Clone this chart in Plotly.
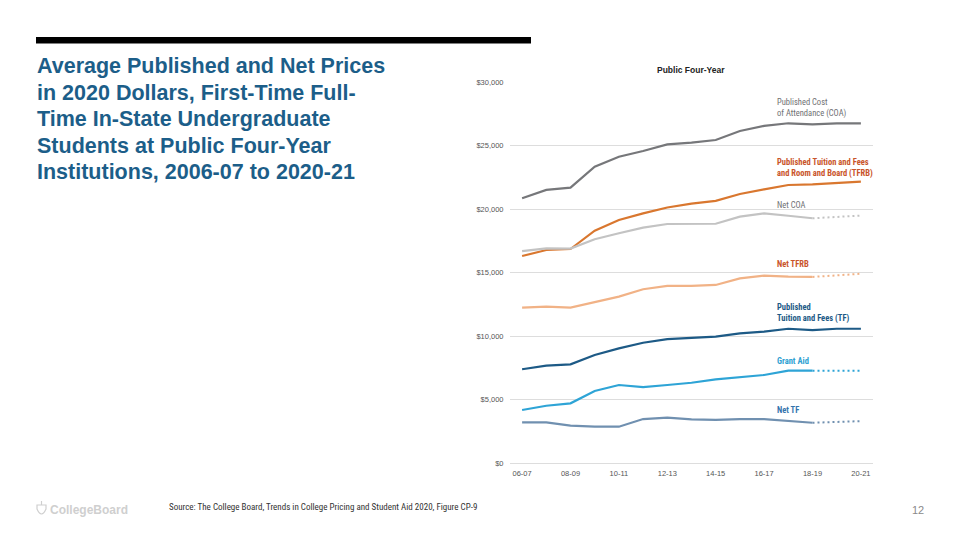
import plotly.graph_objects as go

years = ["06-07", "07-08", "08-09", "09-10", "10-11", "11-12", "12-13", "13-14",
         "14-15", "15-16", "16-17", "17-18", "18-19", "19-20", "20-21"]
tick_years = ["06-07", "08-09", "10-11", "12-13", "14-15", "16-17", "18-19", "20-21"]

# Published prices (2006-07 to 2020-21)
coa = [20840, 21500, 21680, 23330, 24120, 24570, 25090, 25220, 25430, 26140, 26540, 26750, 26670, 26750, 26750]
tfrb = [16300, 16770, 16850, 18290, 19130, 19660, 20120, 20420, 20640, 21180, 21550, 21890, 21940, 22070, 22150]
tf = [7380, 7660, 7770, 8500, 9030, 9470, 9760, 9870, 9950, 10210, 10340, 10570, 10470, 10570, 10570]

# Net prices and grant aid (2006-07 to 2018-19), plus dotted estimates to 2020-21
net_coa = [16690, 16900, 16880, 17620, 18090, 18530, 18820, 18840, 18840, 19400, 19660, 19470, 19270]
net_coa_est = [19270, 19400, 19480]
net_tfrb = [12230, 12310, 12230, 12650, 13100, 13680, 13940, 13940, 14020, 14540, 14750, 14670, 14650]
net_tfrb_est = [14650, 14800, 14900]
grant_aid = [4170, 4510, 4700, 5670, 6140, 5980, 6140, 6320, 6590, 6750, 6930, 7270, 7270]
grant_aid_est = [7270, 7270, 7270]
net_tf = [3200, 3200, 2940, 2860, 2860, 3460, 3570, 3440, 3390, 3460, 3460, 3330, 3170]
net_tf_est = [3170, 3240, 3300]

title_lines = ["Average Published and Net Prices", "in 2020 Dollars, First-Time Full-",
               "Time In-State Undergraduate", "Students at Public Four-Year",
               "Institutions, 2006-07 to 2020-21"]

# the page body has an 8px margin, so the figure is drawn 8px smaller and offset
OFF = 8
W, H = 960 - OFF, 540 - OFF
L, R, T, B = 510 - OFF, 873 - OFF, 82 - OFF, 463 - OFF


def px(x):
    return (x - OFF - L) / (R - L)


def py(y):
    return (B - (y - OFF)) / (B - T)


C_COA = "#76777a"
C_TFRB = "#d9772f"
C_NCOA = "#c3c3c3"
C_NTFRB = "#f1b286"
C_TF = "#1d5a86"
C_GA = "#2ea4d6"
C_NTF = "#7090b0"

fig = go.Figure()

solid = [
    ("Published COA", coa, C_COA, years),
    ("Published TFRB", tfrb, C_TFRB, years),
    ("Net COA", net_coa, C_NCOA, years[:13]),
    ("Net TFRB", net_tfrb, C_NTFRB, years[:13]),
    ("Published TF", tf, C_TF, years),
    ("Grant Aid", grant_aid, C_GA, years[:13]),
    ("Net TF", net_tf, C_NTF, years[:13]),
]
for name, vals, col, xs in solid:
    fig.add_trace(go.Scatter(x=xs, y=vals, mode="lines", name=name,
                             line=dict(color=col, width=2.2), showlegend=False,
                             hoverinfo="skip"))

dotted = [
    (net_coa_est, C_NCOA),
    (net_tfrb_est, C_NTFRB),
    (grant_aid_est, C_GA),
    (net_tf_est, C_NTF),
]
for vals, col in dotted:
    fig.add_trace(go.Scatter(x=years[12:], y=vals, mode="lines",
                             line=dict(color=col, width=2, dash="2px,3px"),
                             showlegend=False, hoverinfo="skip"))

ann = []
# main slide title, one annotation per line
for i, line in enumerate(title_lines):
    ann.append(dict(x=px(34.5), y=py(66.5 + 26.4 * i), xref="paper", yref="paper",
                    xanchor="left", yanchor="middle", align="left", showarrow=False,
                    text="<b>" + line + "</b>",
                    font=dict(family="Liberation Sans, Arial, sans-serif", size=21.5, color="#1c5e89")))
# chart title
ann.append(dict(x=px(691), y=py(70), xref="paper", yref="paper", xanchor="center", yanchor="middle",
                showarrow=False, text="<b>Public Four-Year</b>",
                font=dict(family="Liberation Sans, Arial, sans-serif", size=8.5, color="#222222")))

LBL_FONT = "Liberation Sans Narrow, Roboto Condensed, Arial Narrow, Liberation Sans, sans-serif"
labels = [
    ("Published Cost<br>of Attendance (COA)", 107.5, "#6f7073", False),
    ("Published Tuition and Fees<br>and Room and Board (TFRB)", 167.5, "#c9542a", True),
    ("Net COA", 204.5, "#6f7073", False),
    ("Net TFRB", 263.5, "#c9542a", True),
    ("Published<br>Tuition and Fees (TF)", 313, "#1d5a86", True),
    ("Grant Aid", 361, "#2e9fd2", True),
    ("Net TF", 410, "#3574ad", True),
]
for txt, yy, col, bold in labels:
    t = "<b>" + txt + "</b>" if bold else txt
    ann.append(dict(x=px(775), y=py(yy), xref="paper", yref="paper", xanchor="left", yanchor="middle",
                    align="left", showarrow=False, text=t,
                    font=dict(family=LBL_FONT, size=8.5, color=col)))

# footer
ann.append(dict(x=px(167), y=py(507), xref="paper", yref="paper", xanchor="left", yanchor="middle",
                showarrow=False,
                text="Source: The College Board, Trends in College Pricing and Student Aid 2020, Figure CP-9",
                font=dict(family=LBL_FONT, size=9, color="#333333")))
ann.append(dict(x=px(48), y=py(510), xref="paper", yref="paper", xanchor="left", yanchor="middle",
                showarrow=False, text="<b>CollegeBoard</b>",
                font=dict(family="Liberation Sans, Arial, sans-serif", size=12, color="#cfcfcf")))
ann.append(dict(x=px(918), y=py(510), xref="paper", yref="paper", xanchor="center", yanchor="middle",
                showarrow=False, text="12",
                font=dict(family="Liberation Sans, Arial, sans-serif", size=11, color="#8a8a8a")))

shapes = [
    dict(type="rect", xref="paper", yref="paper", x0=px(36), x1=px(531), y0=py(37), y1=py(43.5),
         fillcolor="#000000", line=dict(width=0)),
    dict(type="path", xref="paper", yref="paper",
         path="M {a},{b} L {c},{b} L {c},{d} Q {e},{f} {a},{d} Z".format(
             a=px(37), b=py(505), c=px(46), d=py(509), e=px(41.5), f=py(519)),
         line=dict(color="#cfcfcf", width=1.2), fillcolor="rgba(0,0,0,0)"),
    dict(type="line", xref="paper", yref="paper", x0=px(41.5), x1=px(41.5), y0=py(501), y1=py(505),
         line=dict(color="#cfcfcf", width=1.2)),
]

fig.update_layout(
    width=W, height=H,
    margin=dict(l=L, r=W - R, t=T, b=H - B, pad=0),
    paper_bgcolor="white", plot_bgcolor="white",
    showlegend=False,
    annotations=ann, shapes=shapes,
    xaxis=dict(type="category", categoryorder="array", categoryarray=years,
               range=[-0.5, 14.5], tickmode="array", tickvals=tick_years, ticktext=tick_years,
               showgrid=False, zeroline=False, showline=False,
               ticks="outside", ticklen=3, tickcolor="rgba(0,0,0,0)",
               tickfont=dict(family="Liberation Sans, Arial, sans-serif", size=7.5, color="#555555")),
    yaxis=dict(range=[0, 30000], tickvals=[0, 5000, 10000, 15000, 20000, 25000, 30000],
               tickformat="$,.0f", showgrid=True, gridcolor="#dddddd", gridwidth=1,
               zeroline=True, zerolinecolor="#dddddd", zerolinewidth=1, showline=False,
               ticks="outside", ticklen=4, tickcolor="rgba(0,0,0,0)",
               tickfont=dict(family="Liberation Sans, Arial, sans-serif", size=7.5, color="#555555")),
)

fig.write_html("out.html")
